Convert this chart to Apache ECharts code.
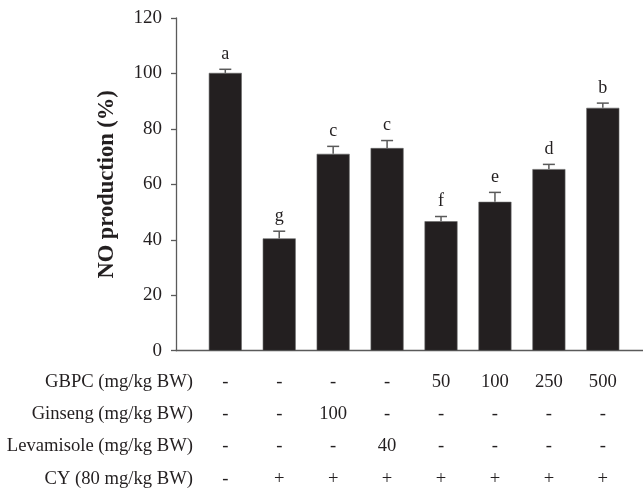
<!DOCTYPE html>
<html>
<head>
<meta charset="utf-8">
<script src="https://cdn.jsdelivr.net/npm/echarts@6/dist/echarts.min.js"></script>
<style>
html,body{margin:0;padding:0;background:#fff;}
#chart{width:643px;height:495px;}
</style>
</head>
<body>
<div id="chart"></div>
<script>
// ---- data ----
const groups = ['Control', 'Model', 'Ginseng', 'Levamisole', 'GBPC 50', 'GBPC 100', 'GBPC 250', 'GBPC 500'];
const noProduction = [100.2, 40.5, 71.0, 73.1, 46.7, 53.7, 65.5, 87.6];
const errorSD = [1.3, 2.6, 2.7, 2.7, 1.7, 3.4, 1.7, 1.7];
const sigLetters = ['a', 'g', 'c', 'c', 'f', 'e', 'd', 'b'];
const yTicks = [0, 20, 40, 60, 80, 100, 120];
const rowLabels = ['GBPC (mg/kg BW)', 'Ginseng (mg/kg BW)', 'Levamisole (mg/kg BW)', 'CY (80 mg/kg BW)'];
const gbpcRow = ['-', '-', '-', '-', '50', '100', '250', '500'];
const ginsengRow = ['-', '-', '100', '-', '-', '-', '-', '-'];
const levamisoleRow = ['-', '-', '-', '40', '-', '-', '-', '-'];
const cyRow = ['-', '+', '+', '+', '+', '+', '+', '+'];

const tableRows = [gbpcRow, ginsengRow, levamisoleRow, cyRow];
const rowOffsets = [31.5, 63, 95.5, 128];

const FONT = '"Liberation Serif", "Times New Roman", serif';
const INK = '#231f20';
const AXIS = '#5a5a5a';
const SX = 0.98; // slight horizontal squeeze of the table text

const chart = echarts.init(document.getElementById('chart'), null, {renderer: 'canvas'});

const barData = noProduction.map((v, i) => [i, v]);
const errData = noProduction.map((v, i) => [i, v, v + errorSD[i], sigLetters[i]]);
const tableData = [];
tableRows.forEach((row, r) => row.forEach((t, i) => tableData.push([i, 0, r, t])));

const option = {
  animation: false,
  backgroundColor: '#fff',
  grid: {left: 176, right: 0, top: 18, bottom: 144.3, containLabel: false},
  xAxis: {
    type: 'value', min: -0.914, max: 7.745,
    axisLine: {show: true, onZero: false, lineStyle: {color: AXIS, width: 1.3}},
    axisTick: {show: false}, axisLabel: {show: false}, splitLine: {show: false}
  },
  yAxis: {
    type: 'value', min: yTicks[0], max: yTicks[yTicks.length - 1], interval: 20,
    name: 'NO production (%)', nameLocation: 'middle', nameGap: 57, nameRotate: 90,
    nameTextStyle: {fontFamily: FONT, fontWeight: 'bold', fontSize: 22.5, color: INK},
    axisLine: {show: true, onZero: false, lineStyle: {color: AXIS, width: 1.3}},
    axisTick: {show: true, inside: false, length: 5, lineStyle: {color: AXIS, width: 1.3}},
    axisLabel: {fontFamily: FONT, fontSize: 19, color: INK, margin: 14},
    splitLine: {show: false}
  },
  series: [
    {
      type: 'bar', data: barData, barWidth: 33,
      itemStyle: {color: INK, borderColor: '#666', borderWidth: 0.6}
    },
    {
      type: 'custom', data: errData, clip: false, z: 5,
      renderItem: function (params, api) {
        const x = api.value(0);
        const top = api.coord([x, api.value(1)]);
        const hi = api.coord([x, api.value(2)]);
        const cap = 6;
        return {
          type: 'group',
          children: [
            {type: 'line', shape: {x1: top[0], y1: top[1], x2: hi[0], y2: hi[1]}, style: {stroke: AXIS, lineWidth: 1.5}},
            {type: 'line', shape: {x1: hi[0] - cap, y1: hi[1], x2: hi[0] + cap, y2: hi[1]}, style: {stroke: AXIS, lineWidth: 1.5}},
            {type: 'text', x: hi[0], y: hi[1] - 6, scaleX: 0.95,
             style: {text: sigLetters[params.dataIndex], x: 0, y: 0, align: 'center', verticalAlign: 'bottom', font: '19px ' + FONT, fill: INK}}
          ]
        };
      }
    },
    {
      type: 'custom', data: tableData, clip: false, z: 5,
      renderItem: function (params, api) {
        const p = api.coord([api.value(0), 0]);
        const r = api.value(2);
        const t = tableData[params.dataIndex][3];
        return {
          type: 'text', x: p[0], y: p[1] + rowOffsets[r], scaleX: SX,
          style: {text: t, x: 0, y: 0, align: 'center', verticalAlign: 'middle', font: '19px ' + FONT, fill: INK}
        };
      }
    }
  ],
  graphic: rowLabels.map((t, r) => ({
    type: 'text', x: 193, y: 350.7 + rowOffsets[r], scaleX: SX,
    style: {text: t, x: 0, y: 0, font: '19px ' + FONT, fill: INK, textAlign: 'right', textVerticalAlign: 'middle'}
  }))
};
chart.setOption(option);
</script>
</body>
</html>
